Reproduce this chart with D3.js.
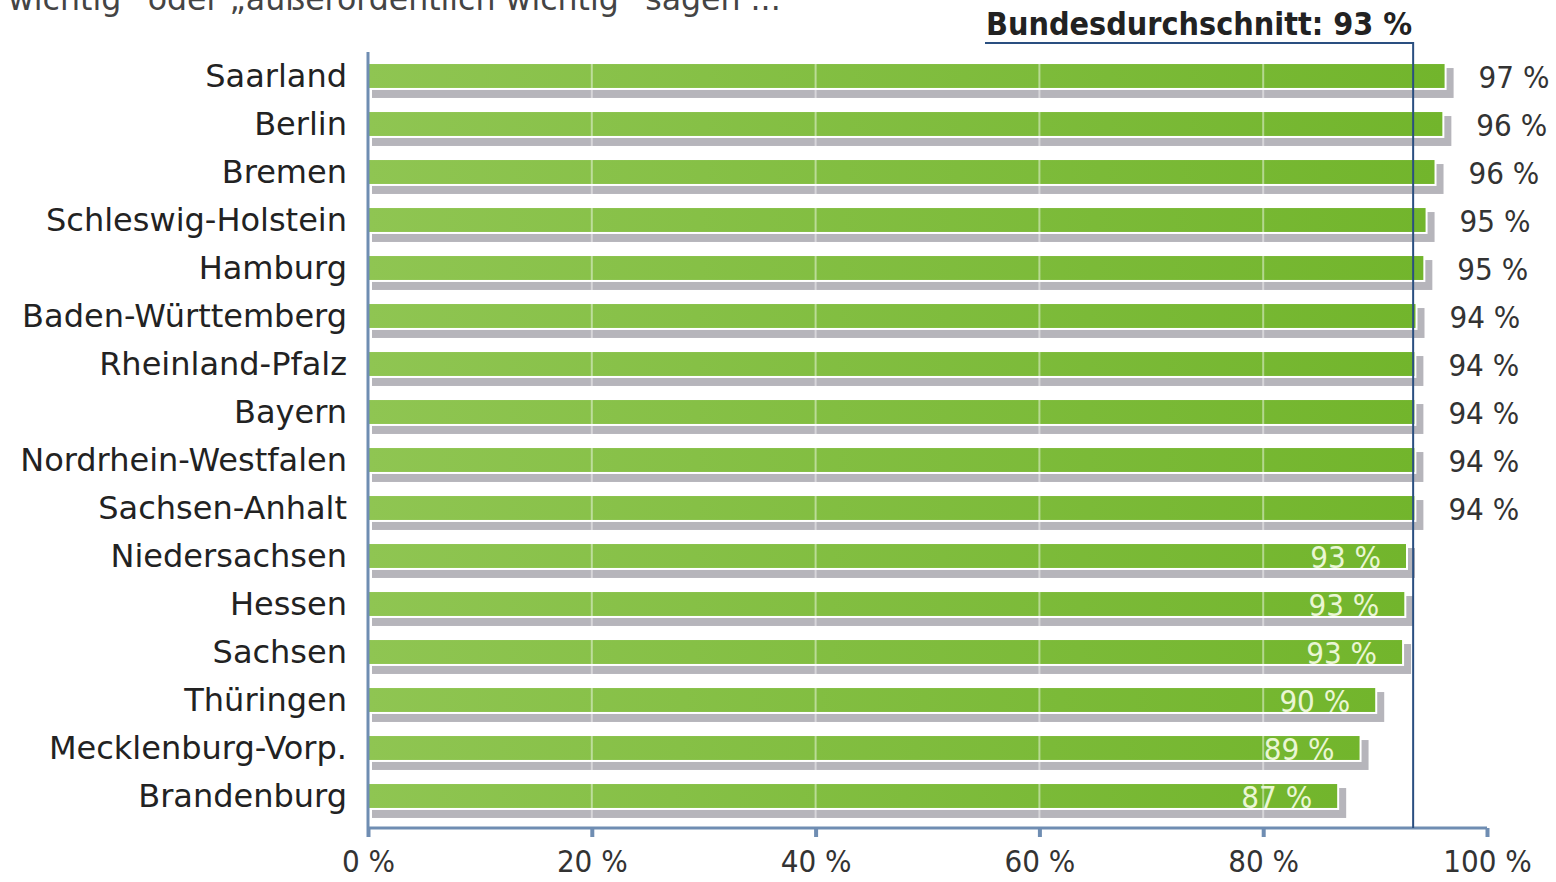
<!DOCTYPE html>
<meta charset="utf-8">
<style>
body { margin: 0; background: #fff; }
text { font-family: "DejaVu Sans", sans-serif; }
.cat { font-size: 32px; fill: #222; }
.tick text { font-size: 31px; fill: #333; font-family: "DejaVu Sans Condensed", "DejaVu Sans", sans-serif; }
.val-out { font-size: 31px; fill: #333; font-family: "DejaVu Sans Condensed", "DejaVu Sans", sans-serif; }
.val-in { font-size: 31px; fill: #eaf6d4; font-family: "DejaVu Sans Condensed", "DejaVu Sans", sans-serif; }
</style>
<body>
<svg width="1556" height="882">
  <defs>
    <linearGradient id="barGrad" x1="0%" y1="0%" x2="100%" y2="0%">
      <stop offset="0%" stop-color="#8fc552" />
      <stop offset="100%" stop-color="#72b52c" />
    </linearGradient>
  </defs>
</svg>
<script src="https://d3js.org/d3.v7.min.js"></script>
<script>

// data (bar lengths, labels as printed)
var states = ["Saarland", "Berlin", "Bremen", "Schleswig-Holstein", "Hamburg",
  "Baden-Württemberg", "Rheinland-Pfalz", "Bayern", "Nordrhein-Westfalen",
  "Sachsen-Anhalt", "Niedersachsen", "Hessen", "Sachsen", "Thüringen",
  "Mecklenburg-Vorp.", "Brandenburg"];
var values = [96.3, 96.1, 95.4, 94.6, 94.4, 93.7, 93.6, 93.6, 93.6, 93.6, 92.85, 92.7, 92.5, 90.1, 88.7, 86.7];
var labels = ["97 %", "96 %", "96 %", "95 %", "95 %", "94 %", "94 %", "94 %", "94 %",
  "94 %", "93 %", "93 %", "93 %", "90 %", "89 %", "87 %"];
var labelOutside = [true, true, true, true, true, true, true, true, true, true,
  false, false, false, false, false, false];
var xTicks = [0, 20, 40, 60, 80, 100];
var average = 93.4;
var averageLabel = "Bundesdurchschnitt: 93 %";
var titleLine = "wichtig\u201C oder \u201Eau\u00DFerordentlich wichtig\u201C sagen ...";

// note: "top" is reserved on window, so use plotTop
var plotLeft = 368, plotRight = 1487, plotTop = 52, plotBottom = 820;
var axisY = 828;

var svg = d3.select("svg");

var x = d3.scaleLinear().domain([0, 100]).range([plotLeft, plotRight]);
var y = d3.scaleBand().domain(states).range([plotTop, plotBottom]).paddingInner(0.46).paddingOuter(0.23);

// cut-off title line at the very top
svg.append("text")
    .attr("x", 8).attr("y", 10)
    .style("font-size", "31.6px").style("fill", "#444")
    .text(titleLine);

// shadows
svg.append("g").selectAll("rect")
    .data(states)
  .enter().append("rect")
    .attr("x", x(0) + 4)
    .attr("y", function(d) { return y(d) + 5; })
    .attr("width", function(d, i) { return x(values[i]) - x(0) + 4; })
    .attr("height", y.bandwidth() + 4)
    .attr("fill", "#b6b5bb");

// bars
svg.append("g").selectAll("rect")
    .data(states)
  .enter().append("rect")
    .attr("x", x(0))
    .attr("y", function(d) { return y(d); })
    .attr("width", function(d, i) { return x(values[i]) - x(0); })
    .attr("height", y.bandwidth())
    .attr("fill", "url(#barGrad)")
    .attr("stroke", "#fff")
    .attr("stroke-width", 2);

// light grid lines through the bars
svg.append("g").selectAll("line")
    .data(xTicks.slice(1, 5))
  .enter().append("line")
    .attr("x1", function(d) { return x(d); })
    .attr("x2", function(d) { return x(d); })
    .attr("y1", plotTop + 6).attr("y2", plotBottom + 4)
    .attr("stroke", "#fff").attr("stroke-opacity", 0.45).attr("stroke-width", 2);

// category labels
svg.append("g").selectAll("text")
    .data(states)
  .enter().append("text")
    .attr("class", "cat")
    .attr("x", 347)
    .attr("y", function(d) { return y(d) + y.bandwidth() / 2 + 11; })
    .attr("text-anchor", "end")
    .text(function(d) { return d; });

// value labels
svg.append("g").selectAll("text")
    .data(states)
  .enter().append("text")
    .attr("class", function(d, i) { return labelOutside[i] ? "val-out" : "val-in"; })
    .attr("x", function(d, i) { return labelOutside[i] ? x(values[i]) + 33 : x(values[i]) - 26; })
    .attr("y", function(d) { return y(d) + y.bandwidth() / 2 + 12; })
    .attr("text-anchor", function(d, i) { return labelOutside[i] ? "start" : "end"; })
    .text(function(d, i) { return labels[i]; });

// axes
svg.append("line")
    .attr("x1", x(0)).attr("x2", x(0))
    .attr("y1", plotTop).attr("y2", axisY)
    .attr("stroke", "#6f8db2").attr("stroke-width", 3);

var xAxis = svg.append("g")
    .attr("transform", "translate(0," + axisY + ")")
    .call(d3.axisBottom(x).tickValues(xTicks).tickSize(9).tickPadding(8)
      .tickFormat(function(d) { return d + " %"; }));
xAxis.select(".domain").attr("stroke", "#6f8db2").attr("stroke-width", 3)
    .attr("d", "M" + x(0) + ",0H" + x(100));
xAxis.selectAll(".tick line").attr("stroke", "#6f8db2").attr("stroke-width", 4);
xAxis.selectAll(".tick text").attr("dy", "0.87em");

// national average line
svg.append("path")
    .attr("d", "M985,43H" + x(average) + "V" + axisY)
    .attr("fill", "none")
    .attr("stroke", "#2a4f80")
    .attr("stroke-width", 2);

svg.append("text")
    .attr("x", 986).attr("y", 35)
    .style("font-family", "'DejaVu Sans Condensed', 'DejaVu Sans', sans-serif")
    .style("font-size", "32px").style("font-weight", "bold").style("fill", "#222")
    .text(averageLabel);

</script>
</body>
